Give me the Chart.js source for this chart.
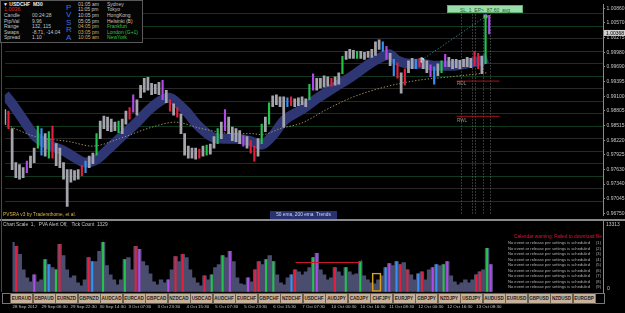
<!DOCTYPE html>
<html><head><meta charset="utf-8">
<script src="https://cdn.jsdelivr.net/npm/chart.js@4.4.0/dist/chart.umd.min.js"></script>
<style>
body{margin:0;background:#000;width:625px;height:313px;overflow:hidden;position:relative;font-family:"Liberation Sans",Arial,sans-serif}
canvas{position:absolute;left:0}
.t{position:absolute;white-space:pre;line-height:1;font-size:5px;color:#c4c4c4}
.btn{position:absolute;top:293px;height:9px;width:21px;background:#c6b29b;border:0.6px solid #6e604f;color:#2a2018;font-weight:bold;font-size:4.6px;text-align:center;line-height:9px;white-space:pre}
</style></head><body>
<canvas id="main" width="625" height="220" style="top:0;width:625px;height:220px"></canvas>
<canvas id="vol" width="625" height="93" style="top:220px;width:625px;height:93px"></canvas>
<div id="ov"></div>
<script>
// ---------- DATA ----------
const dateLabels = ["28 Sep 2012","29 Sep 06:30","29 Sep 22:30","30 Sep 14:30","3 Oct 07:30","3 Oct 23:30","4 Oct 15:30","5 Oct 07:30","5 Oct 23:30","6 Oct 15:30","7 Oct 07:30","10 Oct 00:30","10 Oct 16:30","11 Oct 08:30","12 Oct 00:30","12 Oct 16:30","13 Oct 08:30"];
const yTickLabels = [1.00860,1.00570,1.00275,0.99980,0.99690,0.99395,0.99100,0.98805,0.98515,0.98220,0.97925,0.97630,0.97340,0.97045,0.96750];
const levelLines = [1.0075,1.0050,1.0025,1.0000,0.9975,0.9950,0.9925,0.9900,0.9875,0.9850,0.9825,0.9800,0.9775,0.9750,0.9725,0.9700];
const highs = [
0.9883,0.9880,0.9845,0.9777,0.9773,0.9767,0.9780,0.9790,0.9806,0.9850,
0.9845,0.9835,0.9839,0.9850,0.9815,0.9806,0.9777,0.9763,0.9763,0.9761,
0.9763,0.9771,0.9780,0.9790,0.9796,0.9835,0.9860,0.9870,0.9868,0.9864,
0.9858,0.9860,0.9864,0.9880,0.9887,0.9913,0.9903,0.9932,0.9946,0.9948,
0.9936,0.9934,0.9938,0.9942,0.9922,0.9903,0.9895,0.9887,0.9874,0.9835,
0.9810,0.9806,0.9806,0.9804,0.9810,0.9812,0.9814,0.9829,0.9845,0.9858,
0.9883,0.9868,0.9848,0.9845,0.9841,0.9831,0.9829,0.9821,0.9810,0.9825,
0.9854,0.9868,0.9897,0.9911,0.9913,0.9909,0.9909,0.9907,0.9909,0.9905,
0.9907,0.9909,0.9905,0.9934,0.9955,0.9946,0.9946,0.9951,0.9949,0.9946,
0.9949,0.9957,0.9990,1.0000,1.0004,1.0002,1.0000,1.0000,0.9998,1.0000,
1.0004,1.0019,1.0023,1.0019,1.0010,0.9996,0.9984,0.9977,0.9957,0.9965,
0.9981,0.9986,0.9984,0.9986,0.9982,0.9981,0.9973,0.9969,0.9975,0.9981,
0.9994,0.9988,0.9984,0.9984,0.9982,0.9984,0.9988,0.9986,1.0000,0.9996,
0.9990,1.0072,1.0072];
const lows = [
0.9854,0.9845,0.9763,0.9747,0.9744,0.9747,0.9757,0.9767,0.9777,0.9806,
0.9792,0.9790,0.9786,0.9786,0.9771,0.9767,0.9744,0.9689,0.9738,0.9742,
0.9744,0.9751,0.9757,0.9767,0.9775,0.9792,0.9825,0.9845,0.9841,0.9839,
0.9841,0.9837,0.9835,0.9854,0.9864,0.9878,0.9872,0.9907,0.9918,0.9922,
0.9913,0.9915,0.9913,0.9903,0.9897,0.9880,0.9872,0.9868,0.9835,0.9792,
0.9786,0.9786,0.9784,0.9786,0.9790,0.9792,0.9794,0.9806,0.9815,0.9825,
0.9841,0.9835,0.9821,0.9819,0.9815,0.9810,0.9806,0.9796,0.9780,0.9790,
0.9815,0.9839,0.9854,0.9889,0.9893,0.9889,0.9848,0.9889,0.9891,0.9889,
0.9891,0.9893,0.9889,0.9903,0.9922,0.9922,0.9926,0.9928,0.9930,0.9930,
0.9932,0.9934,0.9955,0.9984,0.9986,0.9986,0.9986,0.9986,0.9984,0.9988,
0.9988,0.9992,1.0004,1.0000,0.9984,0.9971,0.9951,0.9946,0.9916,0.9932,
0.9957,0.9965,0.9965,0.9969,0.9965,0.9957,0.9949,0.9934,0.9951,0.9957,
0.9969,0.9969,0.9965,0.9967,0.9965,0.9969,0.9969,0.9967,0.9971,0.9965,
0.9955,0.9975,1.0035];
const volumes = [
9320,8560,7040,4180,2660,1900,3230,1900,2280,6090,
5140,4570,4180,8940,6850,4180,2660,3040,1710,1140,
2280,6470,5710,5710,7610,9320,4950,3230,2280,1330,
2280,6090,6470,4180,8560,7990,5710,4950,3420,1900,
1330,2280,1710,2280,4180,6660,5710,7040,6470,4180,
2660,1710,1140,3040,2280,3230,4570,5140,6850,6470,
7610,5710,2660,1520,1330,2660,1900,4180,5710,5140,
6090,6850,5710,3230,1710,1330,2660,3230,4180,3800,
3230,3800,4570,6470,7230,4180,3230,2280,2660,4570,
3800,3040,4570,3800,3230,3420,5710,3040,2280,1710,
1520,2280,3040,4570,5330,4950,5710,5140,5520,4180,
3230,2280,3420,3800,2280,4180,4570,5140,4950,5140,
5710,3040,1900,1330,1710,2280,1710,2280,3230,3800,
4180,8180,5140];
// PVSRA class: 0 normal, 1 bull climax, 2 bear climax, 3 bull rising, 4 bear rising
const pvsra = [
0,2,0,0,0,0,4,0,0,1,
3,0,1,2,0,0,0,0,0,0,
0,2,3,0,0,1,0,0,0,0,
0,1,0,0,2,4,0,0,0,0,
0,0,0,4,0,2,0,2,0,0,
0,0,0,2,0,1,0,0,1,0,
4,0,0,0,0,4,0,2,2,0,
1,0,1,0,0,0,0,3,2,0,
0,0,0,1,4,0,0,0,0,2,
0,0,1,0,0,0,1,0,0,0,
0,0,0,3,4,0,3,2,0,2,
0,0,3,2,0,0,4,3,0,1,
4,0,0,0,0,0,0,0,2,2,
0,1,4];
const ema50Bars = [0,2.2,4.9,8.4,12.2,15.7,19.3,22,24.7,27.9,31.2,35.5,39.3,42.9,44.8,47.5,49.6,52.3,56.4,59.7,63.2,66.4,70,72.7,76.2,80.8,85.4,89.8,94.4,99,102.5,104.7,107.1,110.7,113.4,117.4,121.5,125.6,129.6,131.5];
const ema50 = [0.9913,0.9893,0.9864,0.9829,0.9812,0.9802,0.9786,0.9777,0.9782,0.9802,0.9825,0.9854,0.9883,0.9903,0.9907,0.9893,0.9878,0.9854,0.9829,0.9825,0.9825,0.9821,0.9813,0.9829,0.9862,0.9883,0.9907,0.9928,0.9949,0.9973,0.9988,0.9994,0.9981,0.9975,0.9975,0.9971,0.9971,0.9975,0.9981,0.9986];
const ema200Bars = [0,8.4,17.6,23.9,31.2,40.1,46.4,53.7,62.7,67.3,70,75.4,80.8,87.6,94.4,103.3,112.6,121.5,131.5];
const ema200 = [0.9854,0.9829,0.9819,0.9810,0.9825,0.9848,0.9858,0.9845,0.9835,0.9835,0.9833,0.9846,0.9856,0.9883,0.9907,0.9928,0.9942,0.9949,0.9957];
const trendBars = [113.6,131];
const trendPrices = [0.99825,1.00699];
const pivotBars = [123.1,134.8];
const rdlPrice = 0.99403, rwlPrice = 0.98698;
const eventBars = [124.4,127.4,128.2,130.4,132.2];
const currentPrice = 1.00368;
const volMax = 13313;
const volLineBars = [78.1,95.7,96.5];
const volLine = [5530,5530,6000];
const boxBar = 100.5, boxTop = 3560;
const symbols = ["EURAUD","GBPAUD","EURNZD","GBPNZD","AUDCAD","EURCAD","GBPCAD","NZDCAD","USDCAD","AUDCHF","EURCHF","GBPCHF","NZDCHF","USDCHF","AUDJPY","CADJPY","CHFJPY","EURJPY","GBPJPY","NZDJPY","USDJPY","AUDUSD","EURUSD","GBPUSD","NZDUSD","EURGBP"];

// ---------- LAYOUT / STYLE ----------
const FAM = '"Liberation Sans", Arial, sans-serif';
const Y_MIN = 0.96716, Y_MAX = 1.00932;
const X_MAX = 163, BARS_PER_LABEL = 8;
const pvCol = ['#a4a4ac','#22c44c','#e3203e','#3592f2','#b04ae8'];
const VOL_BASE = '#4a4d6e';
function levelColor(v){
  const p = Math.round(v*10000);
  if (p % 100 === 50) return '#0f3a20';
  if (p === 10000 || p === 9700) return '#1b2c4e';
  return '#282828';
}

const mainPlugin = {
  id:'mainOverlay',
  beforeDatasetsDraw(chart){
    const {ctx, chartArea:a, scales:{x,y}} = chart;
    ctx.save();
    ctx.strokeStyle='#707070'; ctx.lineWidth=0.8; ctx.setLineDash([1.2,1.8]);
    eventBars.forEach(b=>{const px=Math.round(x.getPixelForValue(b))+0.5; ctx.beginPath(); ctx.moveTo(px,y.getPixelForValue(1.0080)); ctx.lineTo(px,a.bottom); ctx.stroke();});
    ctx.restore();
  },
  afterDraw(chart){
    const {ctx, scales:{y}} = chart;
    const py = y.getPixelForValue(currentPrice);
    ctx.save();
    ctx.fillStyle='#cfcfcf'; ctx.fillRect(y.left+1, py-3, 21, 6);
    ctx.fillStyle='#000'; ctx.font='5px '+FAM; ctx.textBaseline='middle'; ctx.textAlign='left';
    ctx.fillText(currentPrice.toFixed(5), y.left+3, py+0.3);
    ctx.restore();
  }
};

const idx = highs.map((h,i)=>i);
const plainIdx = idx.filter(i=>pvsra[i]===0);
const colorIdx = idx.filter(i=>pvsra[i]!==0);
new Chart(document.getElementById('main'), {
  type:'bar',
  data:{datasets:[
    {type:'bar', data:plainIdx.map(i=>({x:i, y:[lows[i], highs[i]]})), backgroundColor:pvCol[0], barThickness:2.1, grouped:false, order:0},
    {type:'bar', data:colorIdx.map(i=>({x:i, y:[lows[i], highs[i]]})), backgroundColor:colorIdx.map(i=>pvCol[pvsra[i]]), barThickness:1.5, grouped:false, order:0},
    {type:'line', data:ema50Bars.map((b,k)=>({x:b,y:ema50[k]})), borderColor:'#2e3774', borderWidth:10, pointRadius:0, cubicInterpolationMode:'monotone', order:4},
    {type:'line', data:ema200Bars.map((b,k)=>({x:b,y:ema200[k]})), borderColor:'#b39c66', borderWidth:0.9, borderDash:[1.4,1.8], pointRadius:0, cubicInterpolationMode:'monotone', order:3},
    {type:'line', data:trendBars.map((b,k)=>({x:b,y:trendPrices[k]})), borderColor:'#2f9aa6', borderWidth:0.8, borderDash:[1.4,1.8], pointRadius:2.3, pointBackgroundColor:['#5fdcf2','#f0b030'], pointBorderColor:['#dfffff','#2a44a8'], pointBorderWidth:0.8, order:1},
    {type:'line', data:pivotBars.map(b=>({x:b,y:rdlPrice})), borderColor:'#a3161c', borderWidth:1, pointRadius:0, order:2},
    {type:'line', data:pivotBars.map(b=>({x:b,y:rwlPrice})), borderColor:'#a3161c', borderWidth:1, pointRadius:0, order:2}
  ]},
  options:{
    responsive:false, animation:false, maintainAspectRatio:false,
    layout:{padding:{left:2,top:2,right:0,bottom:1}},
    plugins:{legend:{display:false}, tooltip:{enabled:false}},
    scales:{
      x:{type:'linear', min:0, max:X_MAX, offset:false, display:false},
      y:{position:'right', min:Y_MIN, max:Y_MAX,
         afterFit(s){s.width=22;},
         afterBuildTicks(s){s.ticks=yTickLabels.map(v=>({value:v}));},
         ticks:{autoSkip:false, padding:1.5, color:'#c4c4c4', font:{size:5, family:FAM}, callback:v=>v.toFixed(5)},
         grid:{drawOnChartArea:false, drawTicks:true, tickLength:2, color:'#8a8a8a'},
         border:{display:true, color:'#8a8a8a', width:1}},
      lv:{position:'left', min:Y_MIN, max:Y_MAX,
         afterFit(s){s.width=0;},
         afterBuildTicks(s){s.ticks=levelLines.map(v=>({value:v}));},
         ticks:{display:false},
         grid:{drawTicks:false, color:c=>levelColor(c.tick.value), lineWidth:1},
         border:{display:false}}
    }
  },
  plugins:[mainPlugin]
});

const volPlugin = {
  id:'volLabels',
  afterDraw(chart){
    const {ctx, scales:{y}} = chart;
    ctx.save(); ctx.fillStyle='#c4c4c4'; ctx.font='5px '+FAM; ctx.textBaseline='middle';
    ctx.fillText(String(volMax), y.left+3, y.getPixelForValue(volMax)+3.5);
    ctx.fillText('0', y.left+4, y.getPixelForValue(0)-3.5);
    ctx.restore();
  }
};
new Chart(document.getElementById('vol'), {
  type:'bar',
  data:{datasets:[
    {type:'bar', data:volumes.map((v,i)=>({x:i,y:v})), backgroundColor:VOL_BASE, barThickness:3.8, grouped:false, order:3},
    {type:'bar', data:colorIdx.map(i=>({x:i,y:volumes[i]})), backgroundColor:colorIdx.map(i=>pvCol[pvsra[i]]), barThickness:1.4, grouped:false, order:2},
    {type:'bar', data:[{x:boxBar,y:[0,boxTop]}], backgroundColor:'rgba(0,0,0,0)', borderColor:'#d9a21e', borderWidth:1, borderSkipped:false, barThickness:9, grouped:false, order:1},
    {type:'line', data:volLineBars.map((b,k)=>({x:b,y:volLine[k]})), borderColor:'#c8182e', borderWidth:1, pointRadius:0, order:0}
  ]},
  options:{
    responsive:false, animation:false, maintainAspectRatio:false,
    layout:{padding:{left:2,top:1,right:0,bottom:0}},
    plugins:{legend:{display:false}, tooltip:{enabled:false}},
    scales:{
      x:{type:'linear', min:0, max:X_MAX, offset:false,
         afterFit(s){s.height=21;},
         afterBuildTicks(s){s.ticks=dateLabels.map((d,k)=>({value:k*BARS_PER_LABEL}));},
         ticks:{autoSkip:false, maxRotation:0, align:'start', padding:12.5, color:'#c4c4c4', font:{size:4.4, family:FAM}, callback:v=>dateLabels[Math.round(v/BARS_PER_LABEL)]||''},
         grid:{display:false, drawTicks:false}, border:{display:false}},
      y:{position:'right', min:0, max:volMax,
         afterFit(s){s.width=22;},
         ticks:{display:false},
         grid:{drawOnChartArea:false, drawTicks:false, color:'#8a8a8a'},
         border:{display:true, color:'#8a8a8a'}}
    }
  },
  plugins:[volPlugin]
});

// ---------- TEXT OVERLAYS ----------
const ov = document.getElementById('ov');
function T(x,y,txt,style){const d=document.createElement('div');d.className='t';d.style.left=x+'px';d.style.top=y+'px';d.textContent=txt;if(style)d.style.cssText+=style;ov.appendChild(d);return d;}
T(0,219,'','width:625px;height:1.6px;background:#8a8a8a');
T(1,0,'','width:0.8px;height:292px;background:#4a4a4a');
T(0,0,'','width:143px;height:43px;border:1px solid #5a5a5a;background:#050505;box-sizing:border-box');
const rowY=[1.8,7.4,13,18.6,24.2,29.8,35.4];
T(3,rowY[0],'\u25BC USDCHF  M30','color:#f0f0f0;font-weight:bold');
T(4,rowY[1],'1.0036','color:#e42222;font-size:5.4px');
[['Candle','00:24:28'],['Pip/Val','9.96'],['Range','132, 115'],['Swaps','-8.71, -14.04'],['Spread','1.10']].forEach((r,k)=>{T(4,rowY[k+2],r[0]);T(32,rowY[k+2],r[1]);});
['P','V','S','R','A'].forEach((c,k)=>T(66,3.5+k*7.5,c,'color:#3a6fe2;font-size:8px'));
const zones=[['01:05 am','Sydney',0],['11:05 pm','Tokyo',0],['10:05 pm','HongKong',0],['05:05 pm','Helsinki (B)',0],['04:05 pm','Frankfurt',1],['03:05 pm','London (G+1)',1],['10:05 am','NewYork',1]];
zones.forEach((z,k)=>{T(78,rowY[k],z[0],z[2]?'color:#d3a85e':'');T(107,rowY[k],z[1],z[2]?'color:#2ec43e':'');});
T(447,5,'SL: 1  EP>  87.60  avg','width:76px;height:8px;line-height:8px;background:#9bdcab;color:#1f5a2d;text-align:center;font-size:5px;box-sizing:border-box;border:0.6px solid #5fae70');
T(457,82,'RDL','color:#909090;font-size:4.6px');
T(457,119,'RWL','color:#909090;font-size:4.6px');
T(3,212.6,'PVSRA v3 by Tradersthome, et al.','color:#e0b443;font-size:4.8px');
T(270,210.5,'50 ema, 200 ema  Trends','width:67px;height:8px;line-height:8px;background:#283270;color:#d4d6ec;text-align:center;font-size:4.8px');
T(3,222.7,'Chart Scale  1,   PVA Alert Off,   Tick Count  1329','font-size:4.8px');
T(480,235.3,'Calendar warning: Failed to download file','width:122px;text-align:right;color:#e3142e;font-size:4.8px');
for(let k=0;k<9;k++){T(508,241+k*5.55,'No event or release per settings is scheduled','font-size:4.1px;color:#b4b4b4');T(596,241+k*5.55,'('+(k+1)+')','font-size:4.1px;color:#b4b4b4');}
T(2,293,'','width:8px;height:9px;background:#000;border:0.6px solid #777');
symbols.forEach((s,k)=>{const d=document.createElement('div');d.className='btn';d.style.left=(10+k*22.5)+'px';d.textContent=s;ov.appendChild(d);});
T(595,293,'','width:8px;height:9px;background:#000;border:0.6px solid #777');
</script>
</body></html>
